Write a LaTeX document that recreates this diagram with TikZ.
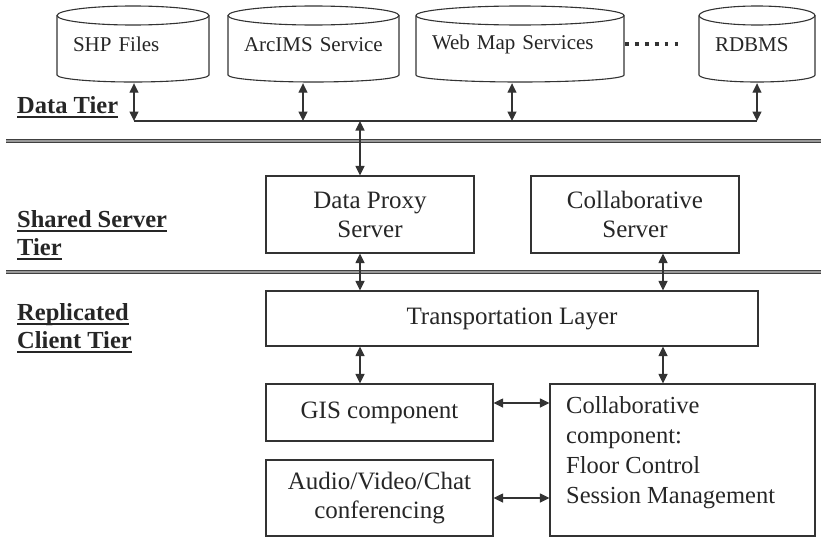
\documentclass[tikz,border=0pt]{standalone}
\usepackage{fontspec}
\setmainfont{Liberation Serif}
\usetikzlibrary{arrows.meta,calc}
\newcommand\ulbox[1]{\leavevmode\setbox0\hbox{#1}\rlap{\rule[-5pt]{\wd0}{2.2pt}}\box0}
\tikzset{
 line/.style={draw=black!80, line width=1.1pt},
 box/.style={line, rectangle, inner sep=0pt, align=center, font=\fontsize{25}{29}\selectfont, text=black!85},
 cyl/.style={inner xsep=16pt, inner ysep=0pt, align=left, font=\fontsize{21}{24}\selectfont, text=black!85},
 tier/.style={anchor=base west, inner sep=0pt, font=\bfseries\fontsize{24.5}{28}\selectfont, text=black!85},
 conn/.style={line, {Triangle[length=9.5pt,width=9pt]}-{Triangle[length=9.5pt,width=9pt]}},
 sep/.style={draw=black!75, line width=1.3pt, double=black!40, double distance=2.2pt},
}
\newcommand\mycyl[4]{%
 \pgfmathsetmacro\cylcx{(#2+#3)/2}%
 \pgfmathsetmacro\cylrx{(#3-#2)/2}%
 \pgfmathsetmacro\cyltw{#3-#2-32}%
 \node[cyl, text width=\cyltw pt, minimum height=77pt] (#1) at (\cylcx,44.5) {#4};
 \draw[line] (#2,15.5) -- (#2,75) arc[start angle=180, end angle=0, x radius=\cylrx, y radius=7] -- (#3,15.5);
 \draw[line] (\cylcx,15.5) ellipse[x radius=\cylrx, y radius=9.5];
}
\begin{document}
\begin{tikzpicture}[x=1pt,y=-1pt]
\useasboundingbox (0,0) rectangle (821,538);
% data tier cylinders
\mycyl{shp}{57}{209}{SHP Files}
\mycyl{arc}{228}{399}{ArcIMS Service}
\mycyl{wms}{416}{624}{Web Map Services}
\mycyl{rdb}{699}{815}{RDBMS}
\draw[line width=3.8pt, black!80, dash pattern=on 3.8pt off 6.1pt] (625,44) -- (678,44);
% bus
\coordinate (b1) at (134,121);
\coordinate (b2) at (303,121);
\coordinate (bc) at (360,121);
\coordinate (b3) at (512,121);
\coordinate (b4) at (757,121);
\draw[line] (b1) -- (b4);
\draw[conn] (b1 |- shp.south) -- (b1);
\draw[conn] (b2 |- arc.south) -- (b2);
\draw[conn] (b3 |- wms.south) -- (b3);
\draw[conn] (b4 |- rdb.south) -- (b4);
% separators
\draw[sep] (6,141) -- (821,141);
\draw[sep] (6,272) -- (821,272);
% tier labels
\node[tier] (dt) at (17,113) {\ulbox{Data Tier}};
\node[tier] (ss1) at (17,227) {\ulbox{Shared Server}};
\node[tier] (ss2) at (17,255) {\ulbox{Tier}};
\node[tier] (rc1) at (17,320) {\ulbox{Replicated}};
\node[tier] (rc2) at (17,348) {\ulbox{Client Tier}};
% boxes
\node[box, minimum width=208pt, minimum height=77pt] (dps) at (370,214.5) {Data Proxy\\Server};
\node[box, minimum width=208pt, minimum height=77pt] (cs) at (635,214.5) {Collaborative\\Server};
\node[box, minimum width=492pt, minimum height=55pt] (trans) at (512,318.5) {Transportation Layer};
\node[box, minimum width=227pt, minimum height=57pt] (gis) at (379.5,412.5) {GIS component};
\node[box, minimum width=227pt, minimum height=76pt] (av) at (379.5,498) {Audio/Video/Chat\\conferencing};
\node[box, minimum width=265pt, minimum height=152pt] (collab) at (682.5,460) {};
\node[anchor=north west, align=left, inner sep=0pt, font=\fontsize{24.5}{30}\selectfont, text=black!85] (collabtext) at (566,396) {Collaborative\\component:\\Floor Control\\Session Management};
% connectors
\coordinate (xa) at (360,0);
\coordinate (xb) at (663,0);
\draw[conn] (bc) -- (dps.north -| bc);
\draw[conn] (dps.south -| xa) -- (trans.north -| xa);
\draw[conn] (cs.south -| xb) -- (trans.north -| xb);
\draw[conn] (trans.south -| xa) -- (gis.north -| xa);
\draw[conn] (trans.south -| xb) -- (collab.north -| xb);
\draw[conn] ([yshift=9.5pt]gis.east) -- ([yshift=9.5pt]gis.east -| collab.west);
\draw[conn] (av.east) -- (av.east -| collab.west);
\end{tikzpicture}
\end{document}
